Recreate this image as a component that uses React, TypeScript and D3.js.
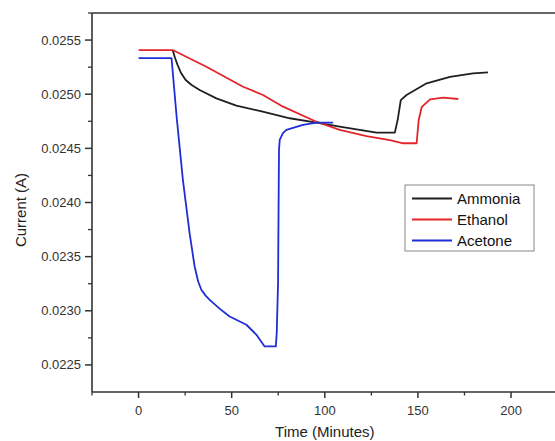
import React from 'react';
import * as d3 from 'd3';

// values (time in minutes, current in A)
const ammoniaT = [18.3, 19.6, 21.0, 22.8, 25.3, 28.5, 32.8, 41.8, 52.5, 66.7, 81.2, 95.5, 108, 127.8, 137.6, 139.2, 140.8, 143.9, 154.7, 167.2, 179.6, 187.6];
const ammoniaI = [0.025408, 0.025334, 0.025269, 0.025196, 0.025131, 0.025085, 0.025039, 0.024962, 0.024895, 0.024839, 0.024778, 0.024737, 0.0247, 0.024645, 0.024645, 0.02477, 0.024946, 0.024993, 0.025101, 0.025161, 0.025193, 0.025202];

const ethanolT = [0, 18.3, 36.4, 56.1, 66.8, 77.6, 95.5, 108, 122.4, 134.9, 142.1, 149.3, 150.4, 152, 156.5, 163.6, 171.7];
const ethanolI = [0.025408, 0.025408, 0.025254, 0.025069, 0.024993, 0.024885, 0.024746, 0.02467, 0.024614, 0.024577, 0.024547, 0.024547, 0.02476, 0.02488, 0.024953, 0.024968, 0.024956];

const acetoneT = [0, 17.7, 20.5, 23.8, 27.4, 30.1, 32.0, 33.7, 36.0, 38.2, 43.5, 48.9, 57.9, 63.3, 67.7, 73.7, 74.2, 74.9, 75.4, 75.8, 77.5, 79.4, 88.3, 95.5, 104.5];
const acetoneI = [0.025334, 0.025334, 0.02478, 0.024209, 0.023717, 0.023409, 0.023270, 0.023194, 0.023140, 0.023101, 0.023020, 0.022947, 0.022871, 0.022778, 0.022671, 0.022671, 0.022797, 0.023258, 0.024485, 0.024578, 0.024640, 0.02467, 0.024716, 0.024737, 0.024737];

const xTicks = [0, 50, 100, 150, 200];
const yTicks = [0.0225, 0.023, 0.0235, 0.024, 0.0245, 0.025, 0.0255];

const series = [
  { name: 'Ammonia', color: '#1f1f1f', t: ammoniaT, v: ammoniaI },
  { name: 'Ethanol', color: '#e3252b', t: ethanolT, v: ethanolI },
  { name: 'Acetone', color: '#1f2ed6', t: acetoneT, v: acetoneI },
];

export default function App() {
  const width = 555;
  const height = 441;
  const left = 92;
  const top = 13;
  const right = 557.6;
  const bottom = 392;

  const x = d3.scaleLinear().domain([-25, 225]).range([left, right]);
  const y = d3.scaleLinear().domain([0.02225, 0.02575]).range([bottom, top]);

  const line = d3
    .line<[number, number]>()
    .x((d) => x(d[0]))
    .y((d) => y(d[1]));

  const xMinor = d3.range(-25, 226, 25).filter((t) => !xTicks.includes(t));
  const yMinor = d3.range(0, 7).map((i) => +(0.02275 + i * 0.0005).toFixed(5));
  const axisColor = '#333';
  const font = '"Liberation Sans", Arial, sans-serif';

  return (
    <div style={{ position: 'fixed', left: 0, top: 0, width, height, overflow: 'hidden', background: '#fff' }}>
      <svg width={width} height={height} style={{ display: 'block' }} fontFamily={font}>
        <rect width={width} height={height} fill="#fff" />
        {/* frame */}
        <line x1={left} x2={width + 5} y1={top} y2={top} stroke={axisColor} strokeWidth={1.6} />
        <line x1={left} x2={width + 5} y1={bottom} y2={bottom} stroke={axisColor} strokeWidth={1.6} />
        <line x1={left} x2={left} y1={top} y2={bottom} stroke={axisColor} strokeWidth={1.6} />

        {/* x ticks */}
        {xTicks.map((t) => (
          <g key={'xt' + t}>
            <line x1={x(t)} x2={x(t)} y1={bottom} y2={bottom + 6} stroke={axisColor} strokeWidth={1.5} />
            <text x={x(t)} y={bottom + 23} textAnchor="middle" fontSize={13} fill="#333">
              {t}
            </text>
          </g>
        ))}
        {xMinor.map((t) => (
          <line key={'xm' + t} x1={x(t)} x2={x(t)} y1={bottom} y2={bottom + 3.5} stroke={axisColor} strokeWidth={1.3} />
        ))}

        {/* y ticks */}
        {yTicks.map((v) => (
          <g key={'yt' + v}>
            <line x1={left - 7} x2={left} y1={y(v)} y2={y(v)} stroke={axisColor} strokeWidth={1.5} />
            <text x={left - 11} y={y(v) + 4.5} textAnchor="end" fontSize={13} fill="#333">
              {v.toFixed(4)}
            </text>
          </g>
        ))}
        {yMinor.map((v) => (
          <line key={'ym' + v} x1={left - 4} x2={left} y1={y(v)} y2={y(v)} stroke={axisColor} strokeWidth={1.3} />
        ))}

        {/* axis titles */}
        <text x={(left + right) / 2} y={437} textAnchor="middle" fontSize={15} fill="#222">
          Time (Minutes)
        </text>
        <text transform="translate(26,210) rotate(-90)" textAnchor="middle" fontSize={15} fill="#222">
          Current (A)
        </text>

        {/* series */}
        {series.map((s) => (
          <path
            key={s.name}
            d={line(s.t.map((t, i) => [t, s.v[i]] as [number, number])) || ''}
            fill="none"
            stroke={s.color}
            strokeWidth={1.8}
            strokeLinejoin="round"
          />
        ))}

        {/* legend */}
        <rect x={405} y={185} width={129} height={66} fill="#fff" stroke="#888" strokeWidth={1} />
        {series.map((s, i) => (
          <g key={'lg' + s.name} transform={`translate(0,${198.5 + i * 21})`}>
            <line x1={412} x2={452} y1={0} y2={0} stroke={s.color} strokeWidth={2} />
            <text x={457} y={5.5} fontSize={15} fill="#111">
              {s.name}
            </text>
          </g>
        ))}
      </svg>
    </div>
  );
}
